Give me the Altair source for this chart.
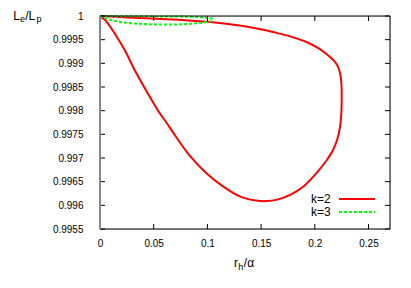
import altair as alt
import pandas as pd

# k=2 closed loop (lower branch, right side, upper branch)
k2_x = [0.0, 0.0013, 0.0045, 0.0075, 0.0137, 0.023, 0.0323, 0.0416, 0.0509, 0.0555, 0.0618,
        0.068, 0.0835, 0.0991, 0.1145, 0.1301, 0.1456, 0.155, 0.165, 0.177, 0.190, 0.2015,
        0.210, 0.217, 0.221, 0.2235, 0.2248, 0.2250, 0.2248, 0.2236, 0.2216, 0.218, 0.2139,
        0.204, 0.1922, 0.177, 0.161, 0.145, 0.130, 0.105, 0.080, 0.0525, 0.025, 0.0]
k2_y = [1.0, 0.99997, 0.99992, 0.99984, 0.99963, 0.99928, 0.99886, 0.99848, 0.99812, 0.99795,
        0.99775, 0.99754, 0.99705, 0.99668, 0.99640, 0.99619, 0.99610, 0.99609, 0.99612,
        0.99622, 0.99641, 0.99668, 0.99692, 0.99717, 0.99740, 0.99766, 0.99800, 0.99830,
        0.99855, 0.99878, 0.99893, 0.99905, 0.99914, 0.99931, 0.99945, 0.99957, 0.99966,
        0.99974, 0.99980, 0.99987, 0.99991, 0.99994, 0.99997, 1.0]

# k=3 small loop near the top
k3_x = [0.0, 0.008, 0.020, 0.040, 0.060, 0.080, 0.095, 0.104, 0.105, 0.100, 0.090, 0.060, 0.030, 0.0]
k3_y = [1.0, 0.99993, 0.99987, 0.99983, 0.99982, 0.99983, 0.99986, 0.99990, 0.99993, 0.99996,
        0.99998, 0.99999, 0.999995, 1.0]

x_ticks = [0.0, 0.05, 0.10, 0.15, 0.20, 0.25]
y_ticks = [0.9955, 0.996, 0.9965, 0.997, 0.9975, 0.998, 0.9985, 0.999, 0.9995, 1.0]
legend_labels = ["k=2", "k=3"]
series_colors = ["#ff0000", "#00ff00"]

W, H = 290, 213
FONT = "Liberation Sans"
xs = alt.Scale(domain=[0, 0.27], nice=False, zero=False)
ys = alt.Scale(domain=[0.9955, 1.0], nice=False, zero=False)

df2 = pd.DataFrame({"x": k2_x, "y": k2_y, "i": list(range(len(k2_x)))})
df3 = pd.DataFrame({"x": k3_x, "y": k3_y, "i": list(range(len(k3_x)))})

xaxis = alt.Axis(values=x_ticks, format=".2~f", title=None, domain=False, ticks=False,
                 grid=False, labelFont=FONT, labelFontSize=10, labelPadding=9,
                 labelColor="black", labelFlush=False, labelOverlap=False)
yaxis = alt.Axis(values=y_ticks, format=".4~f", title=None, domain=False, ticks=False,
                 grid=False, labelFont=FONT, labelFontSize=10, labelPadding=17,
                 labelColor="black", labelFlush=False, labelOverlap=False)

X = lambda f="x": alt.X(f"{f}:Q", scale=xs, axis=xaxis)
Y = lambda f="y": alt.Y(f"{f}:Q", scale=ys, axis=yaxis)

red = alt.Chart(df2).mark_line(color=series_colors[0], strokeWidth=2,
                               interpolate="catmull-rom").encode(
    x=X(), y=Y(), order="i:Q")
green = alt.Chart(df3).mark_line(color=series_colors[1], strokeWidth=2, strokeDash=[3, 2],
                                 interpolate="catmull-rom").encode(
    x=X(), y=Y(), order="i:Q")

# inward ticks (gnuplot style), mirrored on top / right
dxt = pd.DataFrame({"x": x_ticks})
dyt = pd.DataFrame({"y": y_ticks})
TL = 5
xt_bot = alt.Chart(dxt).mark_rule(color="black", strokeWidth=1).encode(
    x=X(), y=alt.value(H), y2=alt.value(H - TL))
xt_top = alt.Chart(dxt).mark_rule(color="black", strokeWidth=1).encode(
    x=X(), y=alt.value(0), y2=alt.value(TL))
yt_left = alt.Chart(dyt).mark_rule(color="black", strokeWidth=1).encode(
    y=Y(), x=alt.value(0), x2=alt.value(TL))
yt_right = alt.Chart(dyt).mark_rule(color="black", strokeWidth=1).encode(
    y=Y(), x=alt.value(W), x2=alt.value(W - TL))

one = pd.DataFrame({"a": [0]})
border_top = alt.Chart(one).mark_rule(color="black", strokeWidth=1).encode(
    x=alt.value(0), x2=alt.value(W), y=alt.value(0))
border_bot = alt.Chart(one).mark_rule(color="black", strokeWidth=1).encode(
    x=alt.value(0), x2=alt.value(W), y=alt.value(H))
border_right = alt.Chart(one).mark_rule(color="black", strokeWidth=1).encode(
    x=alt.value(W), y=alt.value(0), y2=alt.value(H))
border_left = alt.Chart(one).mark_rule(color="#888888", strokeWidth=2).encode(
    x=alt.value(0), y=alt.value(0), y2=alt.value(H))

# axis titles with subscripts
def piece(txt, px, py, size):
    return alt.Chart(one).mark_text(font=FONT, fontSize=size, align="left",
                                    baseline="alphabetic", color="black").encode(
        x=alt.value(px), y=alt.value(py), text=alt.value(txt))

ytitle = [piece("L", -86.7, 3.5, 12), piece("e", -80.0, 5.5, 9),
          piece("/L", -74.8, 3.5, 12), piece("p", -63.6, 5.5, 9)]
xtitle = [piece("r", 134.0, 250.7, 12), piece("h", 138.3, 254.0, 9),
          piece("/α", 143.8, 250.7, 12)]

# legend (key text left of sample, gnuplot style)
leg_text = [alt.Chart(one).mark_text(font=FONT, fontSize=12, align="right", baseline="middle",
                                     color="black").encode(
    x=alt.value(230.7), y=alt.value(yy), text=alt.value(lab))
    for lab, yy in zip(legend_labels, [183, 196])]
leg_red = alt.Chart(one).mark_rule(color=series_colors[0], strokeWidth=2).encode(
    x=alt.value(239), x2=alt.value(275), y=alt.value(183))
leg_green = alt.Chart(one).mark_rule(color=series_colors[1], strokeWidth=2, strokeDash=[3, 2]).encode(
    x=alt.value(239), x2=alt.value(275), y=alt.value(196))

chart = alt.layer(
    red, green, xt_bot, xt_top, yt_left, yt_right,
    border_top, border_bot, border_right, border_left,
    *ytitle, *xtitle, *leg_text, leg_red, leg_green,
).properties(
    width=W, height=H,
    autosize=alt.AutoSizeParams(type="none"),
    padding={"left": 92, "top": 8, "right": 5, "bottom": 50},
).configure_view(stroke=None).configure_axis(labelOverlap=False).configure(background="white")

chart.save("out.html", embed_options={"renderer": "svg", "actions": False})
